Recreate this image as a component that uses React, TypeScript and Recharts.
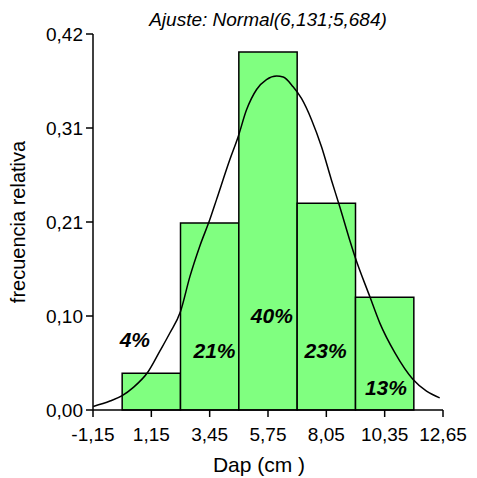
import { ComposedChart, Line, Scatter, XAxis, YAxis, ReferenceArea } from "recharts"

// histogram bins (Dap, cm) and relative frequencies
const binStart = [0, 2.3, 4.6, 6.9, 9.2]
const binEnd = [2.3, 4.6, 6.9, 9.2, 11.5]
const relFreq = [0.041, 0.209, 0.4, 0.231, 0.126]

// percentage labels and where they sit
const pctLabels = ["4%", "21%", "40%", "23%", "13%"]
const pctX = [0.5, 3.64, 5.9, 8.02, 10.4]
const pctY = [0.079, 0.067, 0.106, 0.067, 0.025]

// fitted normal curve
const curveX = [-1.14, -0.48, 0, 0.43, 1.03, 1.49, 1.88, 2.3, 2.67, 3.06, 3.46, 3.72, 4.25, 4.57, 4.9, 5.3, 5.69, 6.09, 6.35, 6.74, 7.07, 7.47, 7.86, 8.25, 8.58, 8.97, 9.17, 9.76, 10.16, 10.75, 11.47, 12.0, 12.52]
const curveY = [0.004, 0.01, 0.016, 0.025, 0.043, 0.066, 0.086, 0.11, 0.149, 0.183, 0.213, 0.235, 0.28, 0.305, 0.335, 0.358, 0.369, 0.373, 0.372, 0.361, 0.348, 0.324, 0.294, 0.257, 0.227, 0.19, 0.172, 0.127, 0.097, 0.064, 0.034, 0.021, 0.0136]

const xTicks = [-1.15, 1.15, 3.45, 5.75, 8.05, 10.35, 12.65]
const xTickLabels = ["-1,15", "1,15", "3,45", "5,75", "8,05", "10,35", "12,65"]
const yTicks = [0, 0.105, 0.21, 0.315, 0.42]
const yTickLabels = ["0,00", "0,10", "0,21", "0,31", "0,42"]

const curve = curveX.map((x, i) => ({ x, y: curveY[i] }))
const labels = pctLabels.map((label, i) => ({ x: pctX[i], y: pctY[i], label }))

const font = '"Liberation Sans", Arial, sans-serif'

export default function App() {
  return (
    <div style={{ position: "absolute", left: 0, top: 0, width: 477, height: 478, background: "#fff", fontFamily: font }}>
      <div
        style={{
          position: "absolute",
          left: 93,
          top: 10,
          width: 350,
          textAlign: "center",
          fontSize: 19,
          fontStyle: "italic",
          whiteSpace: "nowrap",
          lineHeight: "19px",
        }}
      >
        Ajuste: Normal(6,131;5,684)
      </div>
      <ComposedChart width={477} height={478} margin={{ top: 34, right: 34, bottom: 0, left: 0 }}>
        <XAxis
          type="number"
          dataKey="x"
          domain={[-1.15, 12.65]}
          ticks={xTicks}
          tickFormatter={(v: number) => xTickLabels[xTicks.indexOf(v)] ?? String(v)}
          allowDataOverflow
          height={68}
          tickSize={7}
          tickMargin={11}
          tick={{ fill: "#000", fontSize: 19, fontFamily: font }}
          axisLine={{ stroke: "#000", strokeWidth: 1.5 }}
          tickLine={{ stroke: "#000", strokeWidth: 1.5 }}
          label={{ value: "Dap (cm )", position: "insideBottom", offset: 6, dx: -9, fill: "#000", fontSize: 21, fontFamily: font }}
        />
        <YAxis
          type="number"
          dataKey="y"
          domain={[0, 0.42]}
          ticks={yTicks}
          tickFormatter={(v: number) => yTickLabels[yTicks.indexOf(v)] ?? String(v)}
          allowDataOverflow
          width={93}
          tickSize={7}
          tickMargin={3}
          tick={{ fill: "#000", fontSize: 19, fontFamily: font }}
          axisLine={{ stroke: "#000", strokeWidth: 1.5 }}
          tickLine={{ stroke: "#000", strokeWidth: 1.5 }}
          label={{
            value: "frecuencia relativa",
            angle: -90,
            position: "insideLeft",
            offset: 18,
            fill: "#000",
            fontSize: 20,
            fontFamily: font,
            style: { textAnchor: "middle" },
          }}
        />
        {relFreq.map((f, i) => (
          <ReferenceArea
            key={i}
            x1={binStart[i]}
            x2={binEnd[i]}
            y1={0}
            y2={f}
            fill="#80FF80"
            fillOpacity={1}
            stroke="#000"
            strokeWidth={1.5}
            ifOverflow="visible"
          />
        ))}
        <Line
          data={curve}
          dataKey="y"
          type="monotone"
          stroke="#000"
          strokeWidth={1.5}
          dot={false}
          activeDot={false}
          isAnimationActive={false}
        />
        <Scatter
          data={labels}
          dataKey="y"
          isAnimationActive={false}
          shape={(p: any) => (
            <text
              x={p.cx}
              y={p.cy}
              textAnchor="middle"
              dominantBaseline="central"
              fontSize={21}
              fontWeight="bold"
              fontStyle="italic"
              fontFamily={font}
              fill="#000"
            >
              {p.payload.label}
            </text>
          )}
        />
      </ComposedChart>
    </div>
  )
}
